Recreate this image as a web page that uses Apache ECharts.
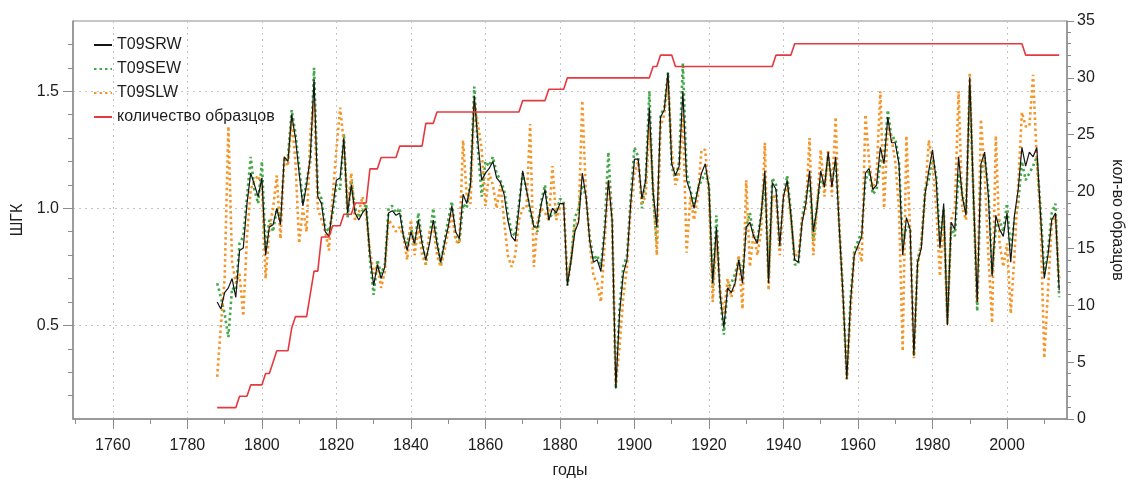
<!DOCTYPE html>
<html>
<head>
<meta charset="utf-8">
<script src="https://cdn.jsdelivr.net/npm/echarts@6.0.0/dist/echarts.min.js"></script>
<style>
  html, body { margin: 0; padding: 0; background: #ffffff; }
  #chart { width: 1138px; height: 484px; }
</style>
</head>
<body>
<div id="chart"></div>
<script>
// Tree-ring chronology indices (ШГК) for 1788–2014 and the number of samples per year
const firstYear = 1788;

const srw = [ // T09SRW, total ring width
  0.60,0.57,0.64,0.66,0.70,0.62,0.82,0.83,1.02,1.15,1.10,1.05,1.13,0.80,0.92,0.93,1.00,0.93,1.22,1.20,
  1.40,1.30,1.15,1.01,1.10,1.22,1.55,1.05,1.02,0.90,0.88,1.00,1.12,1.13,1.30,0.98,1.10,0.98,0.95,0.98,
  1.00,0.80,0.67,0.76,0.70,0.75,0.98,0.99,0.97,0.98,0.88,0.82,0.90,0.85,0.95,0.85,0.78,0.85,0.95,0.85,
  0.77,0.85,0.92,1.01,0.90,0.87,1.06,1.02,1.10,1.48,1.28,1.12,1.15,1.17,1.20,1.13,1.11,1.06,0.95,0.88,
  0.86,1.00,1.16,1.08,1.00,0.92,0.92,1.02,1.08,0.95,1.00,0.98,1.02,1.02,0.67,0.78,0.90,0.94,1.15,1.05,
  0.86,0.77,0.78,0.73,0.90,1.12,0.95,0.23,0.55,0.72,0.78,1.02,1.21,1.21,1.04,1.12,1.43,1.07,0.92,1.39,
  1.42,1.58,1.19,1.14,1.18,1.50,1.12,1.07,1.00,1.08,1.15,1.19,1.09,0.68,0.92,0.63,0.49,0.66,0.64,0.68,
  0.78,0.68,0.92,0.94,0.88,0.85,0.97,1.16,0.68,1.11,1.08,0.84,1.05,1.12,0.97,0.78,0.77,0.94,1.02,1.16,
  0.90,1.00,1.16,1.09,1.24,1.09,1.22,0.91,0.62,0.27,0.60,0.80,0.84,0.88,1.15,1.17,1.08,1.10,1.26,1.19,
  1.39,1.28,1.28,1.19,0.80,0.96,0.91,0.37,0.77,0.83,1.06,1.16,1.25,1.12,0.83,1.02,0.50,0.94,0.91,1.22,
  1.05,0.97,1.56,1.05,0.60,1.19,1.24,1.05,0.71,0.97,0.91,0.88,0.98,0.77,0.97,1.08,1.26,1.18,1.24,1.22,
  1.26,0.97,0.70,0.80,0.95,0.98,0.65
];

const sew = [ // T09SEW, earlywood width
  0.68,0.62,0.55,0.45,0.66,0.65,0.85,0.88,1.05,1.22,1.08,1.02,1.20,0.82,0.95,0.90,1.00,0.95,1.20,1.22,
  1.42,1.32,1.18,1.02,1.12,1.20,1.60,1.08,1.04,0.92,0.90,0.98,1.10,1.08,1.32,0.96,1.12,1.00,0.96,0.99,
  1.02,0.78,0.63,0.78,0.72,0.76,1.00,1.01,0.98,1.00,0.88,0.85,0.92,0.84,0.98,0.86,0.76,0.88,1.00,0.86,
  0.76,0.86,0.95,1.03,0.88,0.85,1.02,1.00,1.12,1.52,1.25,1.05,1.20,1.18,1.22,1.15,1.12,1.08,0.98,0.90,
  0.88,1.02,1.15,1.08,0.98,0.93,0.90,1.03,1.10,0.95,0.98,0.98,1.04,1.03,0.67,0.78,0.96,1.00,1.10,1.05,
  0.88,0.78,0.80,0.75,0.92,1.24,0.95,0.23,0.58,0.75,0.80,1.05,1.26,1.22,1.00,1.12,1.50,1.05,0.85,1.40,
  1.43,1.58,1.18,1.12,1.20,1.62,1.15,1.08,1.02,1.08,1.12,1.15,1.10,0.66,0.97,0.62,0.46,0.66,0.68,0.72,
  0.78,0.72,0.92,0.98,0.88,0.86,0.98,1.12,0.70,1.13,1.10,0.82,1.05,1.14,0.98,0.76,0.76,0.96,1.05,1.12,
  0.86,1.02,1.12,1.10,1.22,1.12,1.20,0.92,0.64,0.27,0.62,0.82,0.86,0.90,1.12,1.16,1.06,1.08,1.20,1.22,
  1.42,1.30,1.30,1.20,0.85,0.92,0.92,0.37,0.78,0.85,1.08,1.12,1.22,1.14,0.86,1.00,0.52,0.92,0.88,1.15,
  1.06,0.98,1.52,1.05,0.56,1.15,1.22,1.08,0.72,0.92,0.95,0.90,1.02,0.82,0.95,1.02,1.20,1.12,1.15,1.18,
  1.22,1.00,0.72,0.82,0.98,1.02,0.62
];

const slw = [ // T09SLW, latewood width
  0.28,0.50,0.70,1.35,0.77,0.68,0.72,0.54,0.88,1.08,1.12,1.14,1.09,0.70,0.91,1.00,1.14,0.87,1.22,1.18,
  1.38,1.20,0.85,1.00,0.90,1.32,1.45,1.00,0.95,0.90,0.82,1.05,1.25,1.43,1.28,1.00,1.15,0.95,0.98,1.05,
  0.97,0.82,0.72,0.76,0.66,0.73,0.95,0.93,0.90,0.92,0.88,0.78,0.95,0.80,0.92,0.80,0.76,0.90,0.92,0.80,
  0.75,0.82,0.90,0.98,0.86,0.85,1.29,1.05,1.02,1.45,1.36,1.25,1.01,1.15,1.10,1.00,1.10,0.95,0.80,0.75,
  0.80,0.95,1.00,1.00,1.36,0.75,0.95,1.00,0.98,0.95,1.18,0.95,1.00,1.02,0.70,0.78,0.92,0.95,1.46,1.05,
  0.85,0.71,0.68,0.60,0.85,1.12,0.95,0.25,0.41,0.62,0.75,1.00,1.15,1.20,1.02,1.05,1.35,1.10,0.80,1.35,
  1.40,1.55,1.25,1.10,1.15,1.40,0.81,1.05,0.95,1.05,1.25,1.25,1.05,0.60,0.88,0.65,0.55,0.70,0.62,0.68,
  0.80,0.57,1.12,0.75,0.90,0.80,0.90,1.28,0.65,1.05,1.05,0.80,1.05,1.10,0.95,0.80,0.80,0.95,1.00,1.30,
  0.80,1.00,1.25,1.05,1.25,1.05,1.39,0.90,0.60,0.27,0.55,0.80,0.84,0.77,1.40,1.20,1.08,1.15,1.50,1.00,
  1.35,1.30,1.20,1.00,0.39,1.31,0.90,0.36,0.75,0.85,1.05,1.29,1.20,1.00,0.71,0.98,0.50,0.95,1.00,1.50,
  1.00,0.95,1.58,1.05,0.60,1.38,1.15,0.80,0.51,1.31,0.85,0.75,0.85,0.55,0.80,1.10,1.41,1.35,1.35,1.57,
  1.20,0.95,0.36,0.65,0.93,0.97,0.70
];

const sampleCount = [ // количество образцов
  1,1,1,1,1,1,2,2,2,3,3,3,3,4,4,5,6,6,6,6,
  8,9,9,9,9,11,13,13,16,16,16,17,17,17,18,18,18,19,19,19,
  19,22,22,22,23,23,23,23,23,24,24,24,24,24,24,24,26,26,26,27,
  27,27,27,27,27,27,27,27,27,27,27,27,27,27,27,27,27,27,27,27,
  27,27,28,28,28,28,28,28,28,29,29,29,29,29,30,30,30,30,30,30,
  30,30,30,30,30,30,30,30,30,30,30,30,30,30,30,30,30,31,31,32,
  32,32,32,31,31,31,31,31,31,31,31,31,31,31,31,31,31,31,31,31,
  31,31,31,31,31,31,31,31,31,31,32,32,32,32,32,33,33,33,33,33,
  33,33,33,33,33,33,33,33,33,33,33,33,33,33,33,33,33,33,33,33,
  33,33,33,33,33,33,33,33,33,33,33,33,33,33,33,33,33,33,33,33,
  33,33,33,33,33,33,33,33,33,33,33,33,33,33,33,33,33,32,32,32,
  32,32,32,32,32,32,32
];

const seriesNames = ['T09SRW', 'T09SEW', 'T09SLW', 'количество образцов'];
const yearLabels = [1760, 1780, 1800, 1820, 1840, 1860, 1880, 1900, 1920, 1940, 1960, 1980, 2000];
const yearMinorTicks = [1750, 1770, 1790, 1810, 1830, 1850, 1870, 1890, 1910, 1930, 1950, 1970, 1990, 2010];
const indexLabels = [0.5, 1.0, 1.5];
const indexMinorTicks = [0.2, 0.3, 0.4, 0.6, 0.7, 0.8, 0.9, 1.1, 1.2, 1.3, 1.4, 1.6, 1.7];

const pairs = arr => arr.map((v, i) => [firstYear + i, v]);

const FONT = "'Liberation Sans', Arial, sans-serif";
const FS = 16;
const AXIS_COLOR = '#8c8c8c';
const TEXT_COLOR = '#1e1e1e';
const gridLine = { show: true, lineStyle: { color: '#c4c4c4', type: [2, 4], width: 1 } };

const chart = echarts.init(document.getElementById('chart'), null, { renderer: 'canvas' });

chart.setOption({
  animation: false,
  backgroundColor: '#ffffff',
  textStyle: { fontFamily: FONT },
  grid: { left: 73, right: 71, top: 21, bottom: 63, show: true, borderColor: AXIS_COLOR, borderWidth: 1 },
  legend: {
    data: seriesNames,
    orient: 'vertical',
    left: 88,
    top: 32,
    itemWidth: 18,
    itemHeight: 14,
    itemGap: 8,
    itemStyle: { opacity: 0 },
    textStyle: { fontFamily: FONT, fontSize: FS, color: TEXT_COLOR, lineHeight: 16 }
  },
  xAxis: [
    {
      type: 'value', min: 1749.3, max: 2016.1,
      name: 'годы', nameLocation: 'middle', nameGap: 44,
      nameTextStyle: { fontFamily: FONT, fontSize: FS, color: TEXT_COLOR },
      axisLine: { lineStyle: { color: AXIS_COLOR, width: 1.5 } },
      axisTick: { customValues: yearLabels, length: 10, lineStyle: { color: AXIS_COLOR } },
      axisLabel: { customValues: yearLabels, formatter: v => String(v), fontFamily: FONT, fontSize: FS, color: TEXT_COLOR, margin: 19 },
      splitLine: gridLine
    },
    {
      type: 'value', min: 1749.3, max: 2016.1, position: 'bottom',
      axisLine: { show: false },
      axisTick: { customValues: yearMinorTicks, length: 5, lineStyle: { color: AXIS_COLOR } },
      axisLabel: { show: false },
      splitLine: { show: false }
    }
  ],
  yAxis: [
    {
      type: 'value', min: 0.1, max: 1.8, position: 'left',
      name: 'ШГК', nameLocation: 'middle', nameGap: 42, nameRotate: 90,
      nameTextStyle: { fontFamily: FONT, fontSize: FS, color: TEXT_COLOR },
      axisLine: { show: true, lineStyle: { color: AXIS_COLOR, width: 1.5 } },
      axisTick: { show: true, customValues: indexLabels, length: 10, lineStyle: { color: AXIS_COLOR } },
      axisLabel: { customValues: indexLabels, formatter: v => v.toFixed(1), fontFamily: FONT, fontSize: FS, color: TEXT_COLOR, margin: 14 },
      splitLine: gridLine
    },
    {
      type: 'value', min: 0.1, max: 1.8, position: 'left',
      axisLine: { show: false },
      axisTick: { show: true, customValues: indexMinorTicks, length: 5, lineStyle: { color: AXIS_COLOR } },
      axisLabel: { show: false },
      splitLine: { show: false }
    },
    {
      type: 'value', min: 0, max: 35, interval: 5, position: 'right',
      name: 'кол-во образцов', nameLocation: 'middle', nameGap: 42, nameRotate: -90,
      nameTextStyle: { fontFamily: FONT, fontSize: FS, color: TEXT_COLOR },
      axisLine: { show: true, lineStyle: { color: AXIS_COLOR, width: 1.5 } },
      axisTick: { show: true, length: 7, lineStyle: { color: AXIS_COLOR } },
      minorTick: { show: true, splitNumber: 5, length: 4, lineStyle: { color: AXIS_COLOR } },
      axisLabel: { fontFamily: FONT, fontSize: FS, color: TEXT_COLOR, margin: 10 },
      splitLine: { show: false }
    }
  ],
  series: [
    {
      name: 'T09SRW', type: 'line', xAxisIndex: 0, yAxisIndex: 0, data: pairs(srw),
      symbol: 'none', z: 5,
      itemStyle: { color: '#151515' },
      lineStyle: { color: '#151515', width: 1.2 }
    },
    {
      name: 'T09SEW', type: 'line', xAxisIndex: 0, yAxisIndex: 0, data: pairs(sew),
      symbol: 'none', z: 3,
      itemStyle: { color: '#45a849' },
      lineStyle: { color: '#45a849', width: 2.6, type: [2.5, 3] }
    },
    {
      name: 'T09SLW', type: 'line', xAxisIndex: 0, yAxisIndex: 0, data: pairs(slw),
      symbol: 'none', z: 4,
      itemStyle: { color: '#f5962a' },
      lineStyle: { color: '#f5962a', width: 2.6, type: [2.5, 3] }
    },
    {
      name: 'количество образцов', type: 'line', xAxisIndex: 0, yAxisIndex: 2, data: pairs(sampleCount),
      symbol: 'none', z: 6,
      itemStyle: { color: '#e33a40' },
      lineStyle: { color: '#e33a40', width: 1.6 }
    }
  ]
});
</script>
</body>
</html>
